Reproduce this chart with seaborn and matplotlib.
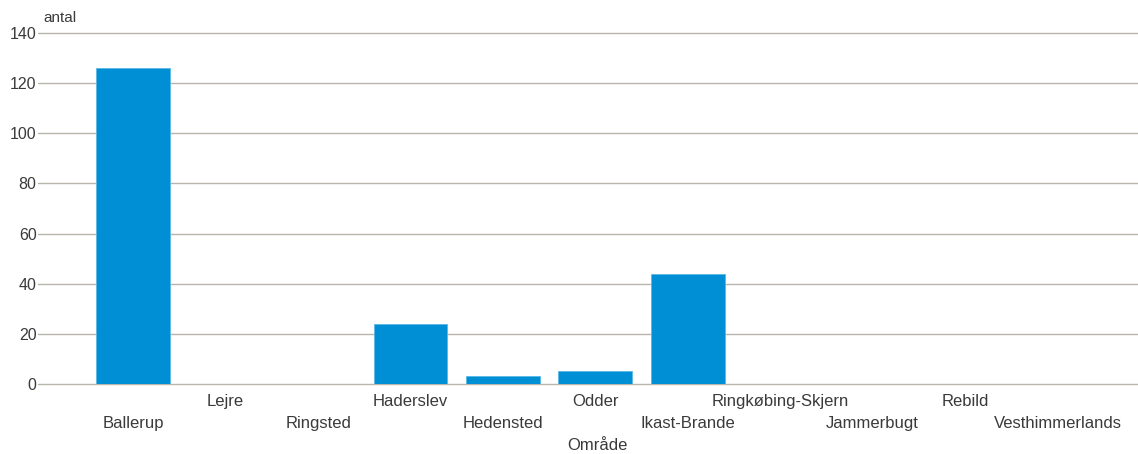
import matplotlib
matplotlib.use("Agg")
import matplotlib.pyplot as plt
import seaborn as sns
import pandas as pd

# ── Data ──────────────────────────────────────────────────────────────────────
omraader = ['Ballerup', 'Lejre', 'Ringsted', 'Haderslev', 'Hedensted', 'Odder',
            'Ikast-Brande', 'Ringkøbing-Skjern', 'Jammerbugt', 'Rebild',
            'Vesthimmerlands']
antal = [126, 0, 0, 24, 3, 5, 44, 0, 0, 0, 0]
y_ticks = [0, 20, 40, 60, 80, 100, 120, 140]

data = pd.DataFrame({'Område': omraader, 'antal': antal})

sns.set_theme(style="white")
plt.rcParams['font.family'] = ['Liberation Sans', 'DejaVu Sans']

W, H = 1138, 454
fig = plt.figure(figsize=(W / 100, H / 100), dpi=100)
ax = fig.add_axes([38 / W, 1 - 384 / H, 1 - 38 / W, (384 - 33) / H])

sns.barplot(data=data, x='Område', y='antal', color='#008fd5',
            saturation=1, width=0.8, edgecolor='#5ab8e6', linewidth=0.6, ax=ax)

ax.set_ylim(0, 140)
ax.set_xlim(-1.03, 10.87)
ax.set_yticks(y_ticks)
ax.yaxis.grid(True, color='#b8b6aa', linewidth=1)
for gl in ax.get_ygridlines():
    gl.set_clip_on(False)
ax.set_axisbelow(True)
for s in ax.spines.values():
    s.set_visible(False)

# staggered category labels: even index on lower row, odd on upper row
ax.set_xticks(range(0, len(omraader), 2), labels=omraader[0::2])
ax.set_xticks(range(1, len(omraader), 2), labels=omraader[1::2], minor=True)
ax.tick_params(axis='x', which='major', length=0, pad=23, labelsize=12, labelcolor='#3a3a3a')
ax.tick_params(axis='x', which='minor', length=0, pad=7, labelsize=12, labelcolor='#3a3a3a')
ax.tick_params(axis='y', length=0, pad=1, labelsize=11.5, labelcolor='#3a3a3a')

ax.set_xlabel('')
ax.set_ylabel('')
fig.text(43 / W, 1 - 18 / H, 'antal', fontsize=11, color='#3a3a3a', va='center', ha='left')
fig.text(597 / W, 1 - 445 / H, 'Område', fontsize=12, color='#3a3a3a', va='center', ha='center')

fig.savefig('out.png', dpi=100)
